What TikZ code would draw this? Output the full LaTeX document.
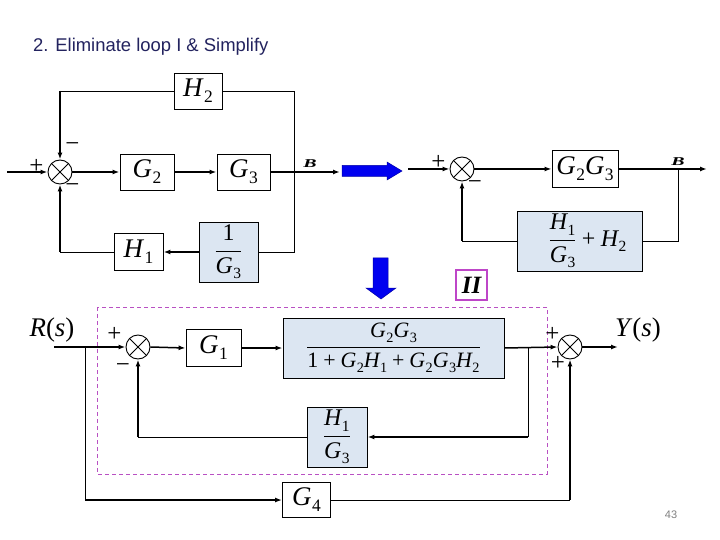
\documentclass[tikz,border=0pt]{standalone}
\usepackage{fix-cm}
\usepackage{amsmath}
\usepackage{fontspec}
\setmainfont{Liberation Serif}
\newfontfamily\arialfont{Liberation Sans}
\usetikzlibrary{arrows.meta}
\definecolor{boxblue}{RGB}{220,230,242}
\definecolor{dashpurple}{RGB}{185,80,195}
\definecolor{iicol}{RGB}{190,70,200}
\definecolor{titlecol}{RGB}{35,35,95}
\definecolor{bluearr}{RGB}{0,0,240}
\newcommand{\gsb}[2]{\textit{#1}\kern0.02em\raisebox{-0.22em}{\scalebox{0.65}{\textrm{#2}}}}
\newcommand{\pls}{\mathbin{\textrm{+}}}
\newcommand{\bigfont}{\fontsize{27}{31}\selectfont}
\newcommand{\fracfont}{\fontsize{24}{28}\selectfont}
\newcommand{\bfracfont}{\fontsize{22}{26}\selectfont}
\newcommand{\signfont}{\fontsize{25}{29}\selectfont}
\tikzset{
  blk/.style={draw, line width=0.9bp, fill=white, inner sep=0pt, font=\bigfont},
  fblk/.style={draw, line width=0.9bp, fill=boxblue, inner sep=0pt},
  sumj/.style={circle, draw, line width=0.9bp, minimum size=24bp, inner sep=0pt, fill=white,
    path picture={\draw[line width=0.8bp] (path picture bounding box.north west)--(path picture bounding box.south east)
      (path picture bounding box.north east)--(path picture bounding box.south west);}},
  thk/.style={line width=1.5bp, -{Latex[length=7bp,width=5bp]}},
  thn/.style={line width=0.9bp},
  sgn/.style={inner sep=0pt, font=\signfont},
  blab/.style={inner sep=0pt, font=\bfseries\itshape\fontsize{20}{22}\selectfont},
  barrow/.style={fill=bluearr, draw=bluearr!70!black, line width=0.5bp}
}
\begin{document}
\begin{tikzpicture}[x=1bp, y=-1bp]
\fill[white] (0,0) rectangle (720,540);
\useasboundingbox (0,0) rectangle (720,540);

% title
\node[anchor=base west, inner sep=0pt, text=titlecol, font=\arialfont\fontsize{18.5}{22}\selectfont] (title) at (33,52) {2. Eliminate loop I \& Simplify};

% ---------- top-left diagram ----------
\node[blk, minimum width=48bp, minimum height=36bp] (H2) at (198,91) {\gsb{H}{2}};
\node[sumj] (sum1) at (60,172) {};
\node[blk, minimum width=54bp, minimum height=36bp] (G2) at (147,172) {\gsb{G}{2}};
\node[blk, minimum width=53bp, minimum height=36bp] (G3) at (243.5,172) {\gsb{G}{3}};
\node[fblk, minimum width=59bp, minimum height=60bp, font=\fracfont] (invG3) at (228.5,252) {$\displaystyle\frac{\textrm{1}}{\gsb{G}{3}}$};
\node[blk, minimum width=49bp, minimum height=37bp] (H1) at (138.5,252) {\gsb{H}{1}};
\coordinate (tl) at (60,91);
\coordinate (tr) at (294,91);
\coordinate (br) at (294,252);
\coordinate (inL) at (7,172);
\coordinate (out1) at (340,172);
\coordinate (bl) at (60,252);

\draw[thn] (tl) -- (H2.west);
\draw[thn] (H2.east) -- (tr) -- (br) -- (invG3.east);
\draw[thk] (tl) -- (sum1.north);
\draw[thk] (inL) -- (sum1.west);
\draw[thk] (sum1.east) -- (G2.west);
\draw[thk] (G2.east) -- (G3.west);
\draw[thk] (G3.east) -- (out1);
\draw[thk] (invG3.west) -- (H1.east);
\draw[thn] (H1.west) -- (bl);
\draw[thk] (bl) -- (sum1.south);

\node[sgn] (p1) at (36.5,166) {+};
\node[sgn] (m1) at (72.5,147) {−};
\node[sgn] (m2) at (72.5,188) {−};
\node[blab] (B1) at (310,164) {\scalebox{1}[0.6]{B}};

% blue arrows
\filldraw[barrow] (342,165.5) -- (387,165.5) -- (387,162) -- (402,171) -- (387,180) -- (387,176.5) -- (342,176.5) -- cycle;
\filldraw[barrow] (373,258) -- (388,258) -- (388,288) -- (396,288) -- (381,299) -- (366,288) -- (373,288) -- cycle;

% ---------- top-right diagram ----------
\node[sumj] (sum2) at (462,169) {};
\node[blk, minimum width=66bp, minimum height=37bp] (G2G3) at (585,169) {\gsb{G}{2}\gsb{G}{3}};
\node[fblk, minimum width=125bp, minimum height=60bp, font=\fracfont] (fb2) at (579.5,241) {\hspace*{16bp}$\displaystyle\frac{\gsb{H}{1}}{\gsb{G}{3}}\pls\gsb{H}{2}$};
\coordinate (in2) at (408,169);
\coordinate (out2) at (707,169);
\coordinate (b2) at (678,169);
\coordinate (b2d) at (678,241);
\coordinate (fb2l) at (462,241);

\draw[thk] (in2) -- (sum2.west);
\draw[thk] (sum2.east) -- (G2G3.west);
\draw[thk] (G2G3.east) -- (out2);
\draw[thn] (b2) -- (b2d) -- (fb2.east);
\draw[thn] (fb2.west) -- (fb2l);
\draw[thk] (fb2l) -- (sum2.south);

\node[sgn] (p2) at (438.5,162.5) {+};
\node[sgn] (m3) at (475,185) {−};
\node[blab] (B2) at (678,162) {\scalebox{1}[0.6]{B}};

\node[draw=iicol, line width=1.8bp, minimum width=31bp, minimum height=30bp, inner sep=0pt, font=\bfseries\itshape\fontsize{25}{28}\selectfont] (IIbox) at (471.5,285) {II};

% ---------- bottom diagram ----------
\draw[dashpurple, line width=1bp, dash pattern=on 4bp off 3bp] (97,307) rectangle (547,474);

\node[font=\bigfont, inner sep=0pt] (Rlab) at (52,330) {\textit{R}(\textit{s})};
\node[font=\bigfont, inner sep=0pt] (Ylab) at (638,330) {\textit{Y}(\textit{s})};

\node[sumj] (sum3) at (138,347) {};
\node[blk, minimum width=55bp, minimum height=37bp] (G1) at (213.5,348) {\gsb{G}{1}};
\node[fblk, minimum width=221bp, minimum height=60bp, font=\bfracfont] (big) at (393.5,348) {$\displaystyle\frac{\gsb{G}{2}\gsb{G}{3}}{\textrm{1}\pls\gsb{G}{2}\gsb{H}{1}\pls\gsb{G}{2}\gsb{G}{3}\gsb{H}{2}}$};
\node[fblk, minimum width=60bp, minimum height=60bp, font=\fracfont] (fb3) at (337,437) {$\displaystyle\frac{\gsb{H}{1}}{\gsb{G}{3}}$};
\node[sumj] (sum4) at (570,347) {};
\node[blk, minimum width=48bp, minimum height=35bp] (G4) at (306.5,500) {\gsb{G}{4}};

\coordinate (Rin) at (54,347);
\coordinate (Rb) at (85,347);
\coordinate (Rbd) at (85,500);
\coordinate (yb) at (528,347);
\coordinate (ybd) at (528,437);
\coordinate (fb3l) at (138,437);
\coordinate (Yout) at (618,347);
\coordinate (g4r) at (570,500);

\draw[thk] (Rin) -- (sum3.west);
\draw[thn] (Rb) -- (Rbd);
\draw[thk] (Rbd) -- (G4.west);
\draw[thk] (sum3.east) -- (G1.west);
\draw[thk] (G1.east) -- (big.west);
\draw[thk] (big.east) -- (sum4.west);
\draw[thn] (yb) -- (ybd);
\draw[thk] (ybd) -- (fb3.east);
\draw[thn] (fb3.west) -- (fb3l);
\draw[thk] (fb3l) -- (sum3.south);
\draw[thk] (sum4.east) -- (Yout);
\draw[thn] (G4.east) -- (g4r);
\draw[thk] (g4r) -- (sum4.south);

\node[sgn] (p3) at (114.5,334) {+};
\node[sgn] (m4) at (123,368) {−};
\node[sgn] (p4) at (552.5,334) {+};
\node[sgn] (p5) at (558,363.5) {+};

\node[inner sep=0pt, text=gray, font=\arialfont\fontsize{11}{13}\selectfont] (pg) at (671,515) {43};
\end{tikzpicture}
\end{document}
